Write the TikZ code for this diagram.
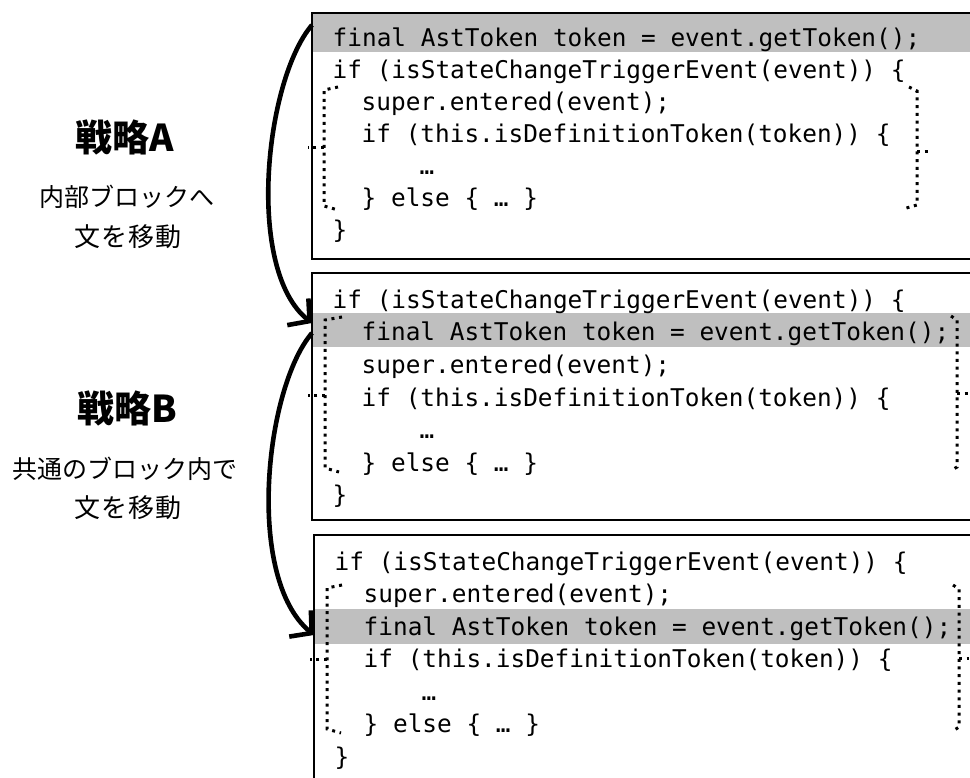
\documentclass[tikz,border=0pt]{standalone}
\usepackage{fontspec}
\setmonofont{DejaVu Sans Mono}
\newfontfamily\jpfont{Noto Sans CJK JP}
\newfontfamily\jpwide[LetterSpace=5]{Noto Sans CJK JP}
\usetikzlibrary{arrows.meta}
\definecolor{bandgrey}{RGB}{191,191,191}
\tikzset{
  codeline/.style={anchor=base west, inner sep=0pt, font=\ttfamily\fontsize{24.4}{24.4}\selectfont},
  codebox/.style={draw=black, line width=2.2pt},
  band/.style={fill=bandgrey, draw=none},
  brack/.style={line width=3pt, dash pattern=on 3pt off 4.7pt},
  move/.style={line width=4.6pt, -{Straight Barb[length=15pt,width=34pt]}},
  title/.style={font=\jpfont\bfseries\fontsize{37}{37}\selectfont, inner sep=0pt},
  sub/.style={font=\jpfont\fontsize{25}{25}\selectfont, inner sep=0pt, align=center},
  subwide/.style={font=\jpwide\fontsize{26}{26}\selectfont, inner sep=0pt, align=center}
}
\begin{document}
\begin{tikzpicture}[x=1pt,y=-1pt]
\useasboundingbox (0,0) rectangle (970,778);
\clip (0,0) rectangle (970,778);
\fill[white] (0,0) rectangle (970,778);

% ---- box 1
\fill[band] (312,13) rectangle (1000,52);
\draw[codebox] (312,13) rectangle (1000,259);
\node[codeline] (b1a) at (332.5,47) {final AstToken token = event.getToken();};
\node[codeline] (b1b) at (332.5,79) {if (isStateChangeTriggerEvent(event)) \{};
\node[codeline] (b1c) at (361.5,111) {super.entered(event);};
\node[codeline] (b1d) at (361.5,143) {if (this.isDefinitionToken(token)) \{};
\node[codeline] (b1e) at (419.5,175) {…};
\node[codeline] (b1f) at (361.5,207) {\} else \{ … \}};
\node[codeline] (b1g) at (332.5,239) {\}};
\draw[brack] (338,87) -- (324,90) -- (324,206) -- (338,210);
\draw[brack] (324,148) -- (308,148);
\draw[brack] (909,87) -- (917,91) -- (917,205) -- (903,209);
\draw[brack] (917,152) -- (931,152);

% ---- box 2
\fill[band] (312,313) rectangle (1000,347);
\draw[codebox] (312,273) rectangle (1000,520);
\node[codeline] (b2a) at (332.5,308.5) {if (isStateChangeTriggerEvent(event)) \{};
\node[codeline] (b2b) at (361.5,341) {final AstToken token = event.getToken();};
\node[codeline] (b2c) at (361.5,373.5) {super.entered(event);};
\node[codeline] (b2d) at (361.5,406) {if (this.isDefinitionToken(token)) \{};
\node[codeline] (b2e) at (419.5,438.5) {…};
\node[codeline] (b2f) at (361.5,471) {\} else \{ … \}};
\node[codeline] (b2g) at (332.5,503.5) {\}};
\draw[brack] (342,317) -- (325,320) -- (325,468) -- (339,472);
\draw[brack] (325,395) -- (308,395);
\draw[brack] (951,316) -- (957,320) -- (957,467) -- (952,470);
\draw[brack] (957,393) -- (969,393);

% ---- box 3
\fill[band] (314,609) rectangle (1000,644);
\draw[codebox] (314,535) rectangle (1000,800);
\node[codeline] (b3a) at (334.5,570) {if (isStateChangeTriggerEvent(event)) \{};
\node[codeline] (b3b) at (363.5,602.5) {super.entered(event);};
\node[codeline] (b3c) at (363.5,635) {final AstToken token = event.getToken();};
\node[codeline] (b3d) at (363.5,667.5) {if (this.isDefinitionToken(token)) \{};
\node[codeline] (b3e) at (421.5,700) {…};
\node[codeline] (b3f) at (363.5,732.5) {\} else \{ … \}};
\node[codeline] (b3g) at (334.5,765) {\}};
\draw[brack] (342,585) -- (327,588) -- (327,729) -- (341,733);
\draw[brack] (327,659) -- (310,659);
\draw[brack] (953,585) -- (959,589) -- (959,727) -- (953,731);
\draw[brack] (959,658) -- (969,658);

% ---- labels
\node[title] (sa) at (125,137) {戦略A};
\node[sub] (sa1) at (127,197) {内部ブロックへ};
\node[subwide] (sa2) at (128,237) {文を移動};
\node[title] (sb) at (127,408) {戦略B};
\node[sub] (sb1) at (125,469) {共通のブロック内で};
\node[subwide] (sb2) at (128,508) {文を移動};

% ---- move arrows
\coordinate (a1s) at (312,25);
\coordinate (a1e) at (312,323);
\coordinate (a2s) at (312,333);
\coordinate (a2e) at (314,635);
\draw[move] (a1s) .. controls (265,80) and (245,270) .. (a1e);
\draw[move] (a2s) .. controls (265,388) and (245,578) .. (a2e);
\end{tikzpicture}
\end{document}
